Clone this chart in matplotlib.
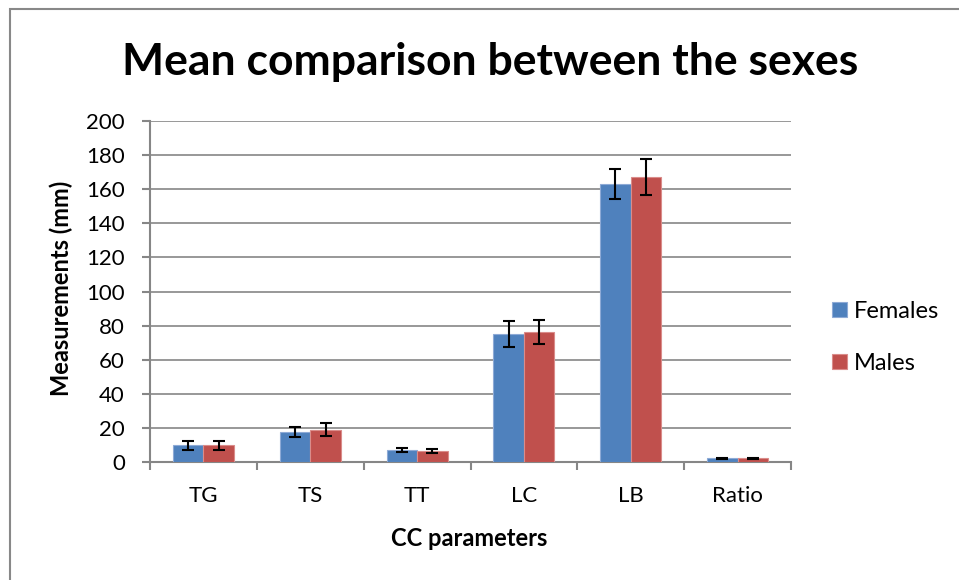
import matplotlib
matplotlib.use("Agg")
import matplotlib.pyplot as plt
import numpy as np
from matplotlib.patches import Rectangle

categories = ["TG", "TS", "TT", "LC", "LB", "Ratio"]
females = [9.8, 17.6, 7.0, 75.0, 163.0, 2.2]
males = [9.8, 19.0, 6.6, 76.0, 167.0, 2.2]
females_err = [2.7, 3.0, 1.3, 7.5, 9.0, 0.3]
males_err = [2.5, 3.9, 1.1, 7.0, 10.5, 0.3]
yticks = [0, 20, 40, 60, 80, 100, 120, 140, 160, 180, 200]

plt.rcParams['font.family'] = ['Lato', 'DejaVu Sans']

W, H = 959, 580
fig = plt.figure(figsize=(W / 100, H / 100), dpi=100)
fig.patches.append(Rectangle((10 / W, -10 / H), (W + 10) / W, (H + 1) / H,
                             transform=fig.transFigure, fill=False,
                             edgecolor='#888888', linewidth=1.5))

ax = fig.add_axes([150 / W, (H - 462) / H, (791 - 150) / W, (462 - 121) / H])
x = np.arange(len(categories))
bw = 0.286
ekw = dict(elinewidth=1.5, capthick=1.5, ecolor='black')
ax.bar(x - bw / 2, females, bw, color='#4F81BD', edgecolor='#8EAAD6', linewidth=0.8,
       yerr=females_err, capsize=4.3, error_kw=ekw, label='Females', zorder=3)
ax.bar(x + bw / 2, males, bw, color='#C0504D', edgecolor='#DA8C8A', linewidth=0.8,
       yerr=males_err, capsize=4.3, error_kw=ekw, label='Males', zorder=3)

ax.set_xlim(-0.5, len(categories) - 0.5)
ax.set_ylim(0, 200)
ax.set_yticks(yticks)
ax.set_yticklabels([str(v) for v in yticks], fontsize=16)
ax.set_xticks(x)
ax.set_xticklabels(categories, fontsize=16)
ax.tick_params(axis='x', length=0, pad=17)
ax.set_xticks(np.arange(len(categories) + 1) - 0.5, minor=True)
ax.tick_params(axis='x', which='minor', length=6, color='#868686', width=1.5)
ax.tick_params(axis='y', length=6, color='#868686', width=1.5, pad=12)
ax.grid(axis='y', color='#868686', linewidth=1.2, zorder=0)
ax.set_axisbelow(True)
for s in ['top', 'right']:
    ax.spines[s].set_visible(False)
for s in ['left', 'bottom']:
    ax.spines[s].set_color('#868686')
    ax.spines[s].set_linewidth(1.5)

fig.text(61 / W, 1 - 288 / H, 'Measurements (mm)', fontsize=17, fontweight='bold',
         rotation=90, ha='center', va='center')
fig.text(469 / W, 1 - 538 / H, 'CC parameters', fontsize=17, fontweight='bold',
         ha='center', va='center')

fig.text(490 / W, 1 - 75 / H, 'Mean comparison between the sexes',
         fontsize=32, fontweight='bold', ha='center', va='baseline')

leg = ax.legend(loc='center left', bbox_to_anchor=(832 / W, 1 - 337.5 / H),
                bbox_transform=fig.transFigure, frameon=False, fontsize=17,
                handlelength=0.62, handleheight=0.62, handletextpad=0.3,
                labelspacing=1.3, borderpad=0, borderaxespad=0)

fig.savefig('out.png', dpi=100)
